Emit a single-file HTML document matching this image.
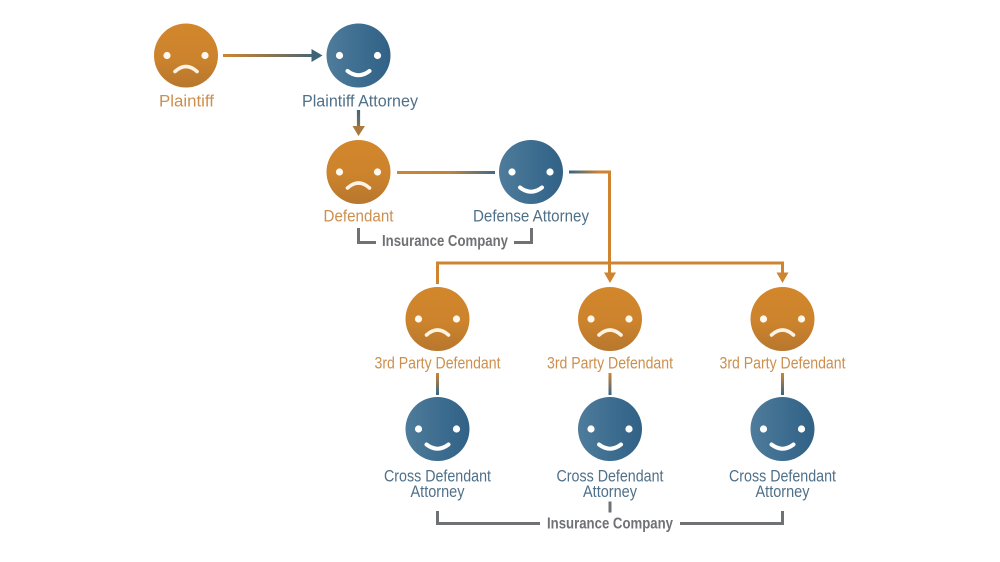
<!DOCTYPE html>
<html><head><meta charset="utf-8"><style>
html,body{margin:0;padding:0;background:#fff;width:1000px;height:562px;overflow:hidden}
svg{display:block}
text{font-family:"Liberation Sans",sans-serif;font-size:16.500px;text-anchor:middle}
.o{fill:#cd8f4d}.b{fill:#4f7089}
.g{fill:#6f7174;font-weight:bold;font-size:16px}
</style></head><body>
<svg width="1000" height="562" viewBox="0 0 1000 562" xmlns="http://www.w3.org/2000/svg">
<defs>
<linearGradient id="og" x1="0" y1="0" x2="0" y2="1"><stop offset="0" stop-color="#d3872c"/><stop offset=".55" stop-color="#cc832c"/><stop offset="1" stop-color="#b7772e"/></linearGradient>
<linearGradient id="bg" x1="0" y1="0" x2="1" y2="0"><stop offset="0" stop-color="#4f7c9b"/><stop offset=".6" stop-color="#3b6b8e"/><stop offset="1" stop-color="#316185"/></linearGradient>
<linearGradient id="l1" gradientUnits="userSpaceOnUse" x1="223" y1="0" x2="322" y2="0"><stop offset="0" stop-color="#cf8430"/><stop offset="1" stop-color="#3d6378"/></linearGradient>
<linearGradient id="l2" gradientUnits="userSpaceOnUse" x1="0" y1="110" x2="0" y2="136"><stop offset="0" stop-color="#3d6580"/><stop offset="1" stop-color="#a87a3e"/></linearGradient>
<linearGradient id="l3" gradientUnits="userSpaceOnUse" x1="397" y1="0" x2="495" y2="0"><stop offset="0" stop-color="#cf8430"/><stop offset=".55" stop-color="#c08338"/><stop offset="1" stop-color="#3d6a8a"/></linearGradient>
<linearGradient id="l4" gradientUnits="userSpaceOnUse" x1="569" y1="0" x2="600" y2="0"><stop offset="0" stop-color="#336587"/><stop offset="1" stop-color="#cf8430"/></linearGradient>
<linearGradient id="l5" gradientUnits="userSpaceOnUse" x1="0" y1="373" x2="0" y2="395"><stop offset="0" stop-color="#cf8430"/><stop offset="1" stop-color="#336587"/></linearGradient>
<g id="sad"><circle r="32" fill="url(#og)"/><circle cx="-19" cy="0" r="3.600" fill="#fff8ee"/><circle cx="19" cy="0" r="3.600" fill="#fff8ee"/><path d="M-11 16Q0 6 11 16" fill="none" stroke="#fdf3e2" stroke-width="3.600" stroke-linecap="round"/></g>
<g id="happy"><circle r="32" fill="url(#bg)"/><circle cx="-19" cy="0" r="3.600" fill="#fff"/><circle cx="19" cy="0" r="3.600" fill="#fff"/><path d="M-11 15.500Q0 24 11 15.500" fill="none" stroke="#fff" stroke-width="4" stroke-linecap="round"/></g>
</defs>

<!-- connectors -->
<path d="M223 55.500H313" stroke="url(#l1)" stroke-width="3" fill="none"/>
<path d="M311.500 49L322.500 55.500L311.500 62Z" fill="#3d6378"/>
<path d="M358.500 110V127" stroke="url(#l2)" stroke-width="3.200" fill="none"/>
<path d="M352.500 126H365L358.500 136Z" fill="#a87a3e"/>
<path d="M397 172.500H495" stroke="url(#l3)" stroke-width="3" fill="none"/>
<path d="M569 172H609.500V273" stroke="url(#l4)" stroke-width="3" fill="none"/>
<path d="M437.500 284V263H782.500V273" stroke="#cf8430" stroke-width="3" fill="none"/>
<path d="M604 272.500H616L610 283Z" fill="#cf8430"/>
<path d="M776.500 272.500H788.500L782.500 283Z" fill="#cf8430"/>
<path d="M437.500 373V395" stroke="url(#l5)" stroke-width="3" fill="none"/>
<path d="M610 373V395" stroke="url(#l5)" stroke-width="3" fill="none"/>
<path d="M782.500 373V395" stroke="url(#l5)" stroke-width="3" fill="none"/>
<path d="M358.500 228V242.500H376" stroke="#6f7174" stroke-width="3" fill="none"/>
<path d="M514 242.500H531.500V228" stroke="#6f7174" stroke-width="3" fill="none"/>
<path d="M437.500 511V523.500H540" stroke="#6f7174" stroke-width="3" fill="none"/>
<path d="M680 523.500H782.500V511" stroke="#6f7174" stroke-width="3" fill="none"/>
<path d="M610 501.500V512.500" stroke="#6f7174" stroke-width="3" fill="none"/>

<!-- faces -->
<use href="#sad" x="186" y="55.500"/>
<use href="#happy" x="358.500" y="55.500"/>
<use href="#sad" x="358.500" y="172"/>
<use href="#happy" x="531" y="172"/>
<use href="#sad" x="437.500" y="319"/>
<use href="#sad" x="610" y="319"/>
<use href="#sad" x="782.500" y="319"/>
<use href="#happy" x="437.500" y="429"/>
<use href="#happy" x="610" y="429"/>
<use href="#happy" x="782.500" y="429"/>

<!-- labels -->
<text class="o" x="186.500" y="106.500" textLength="55" lengthAdjust="spacingAndGlyphs">Plaintiff</text>
<text class="b" x="360" y="106.500" textLength="116" lengthAdjust="spacingAndGlyphs">Plaintiff Attorney</text>
<text class="o" x="358.500" y="221.500" textLength="70" lengthAdjust="spacingAndGlyphs">Defendant</text>
<text class="b" x="531" y="221.500" textLength="116" lengthAdjust="spacingAndGlyphs">Defense Attorney</text>
<text class="g" x="445" y="246" textLength="126" lengthAdjust="spacingAndGlyphs">Insurance Company</text>
<text class="o" x="437.500" y="368.500" textLength="126" lengthAdjust="spacingAndGlyphs">3rd Party Defendant</text>
<text class="o" x="610" y="368.500" textLength="126" lengthAdjust="spacingAndGlyphs">3rd Party Defendant</text>
<text class="o" x="782.500" y="368.500" textLength="126" lengthAdjust="spacingAndGlyphs">3rd Party Defendant</text>
<text class="b" x="437.500" y="481.500" textLength="107" lengthAdjust="spacingAndGlyphs">Cross Defendant</text>
<text class="b" x="437.500" y="497" textLength="54" lengthAdjust="spacingAndGlyphs">Attorney</text>
<text class="b" x="610" y="481.500" textLength="107" lengthAdjust="spacingAndGlyphs">Cross Defendant</text>
<text class="b" x="610" y="497" textLength="54" lengthAdjust="spacingAndGlyphs">Attorney</text>
<text class="b" x="782.500" y="481.500" textLength="107" lengthAdjust="spacingAndGlyphs">Cross Defendant</text>
<text class="b" x="782.500" y="497" textLength="54" lengthAdjust="spacingAndGlyphs">Attorney</text>
<text class="g" x="610" y="528.500" textLength="126" lengthAdjust="spacingAndGlyphs">Insurance Company</text>
</svg>
</body></html>
